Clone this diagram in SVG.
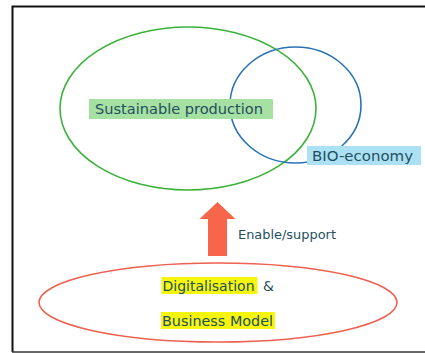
<svg xmlns="http://www.w3.org/2000/svg" width="425" height="353" viewBox="0 0 425 353">
<style>
text{font-family:"DejaVu Sans",Verdana,sans-serif;fill:#1f4f5e}
.big{font-size:14.5px}
.mid{font-size:14px}
.sm{font-size:12.5px}
</style>
<rect width="425" height="353" fill="#fff"/>
<path d="M12.5 352 V6.5 H430" fill="none" stroke="#111" stroke-width="2"/>
<path d="M12 352 H430" stroke="#333" stroke-width="1.5"/>
<g id="sustainable">
<ellipse cx="188" cy="108.5" rx="128" ry="81.5" fill="none" stroke="#3cb23c" stroke-width="1.6"/>
</g>
<g id="bio">
<ellipse cx="295.5" cy="105" rx="65.5" ry="58" fill="none" stroke="#2a72b8" stroke-width="1.6"/>
</g>
<g id="sustainable-label">
<rect x="89" y="99" width="184" height="20" fill="#a6e0a2"/>
<text class="big" x="95" y="113.5" textLength="168" lengthAdjust="spacingAndGlyphs">Sustainable production</text>
</g>
<g id="bio-label">
<rect x="307" y="146" width="114" height="19" fill="#ace1f3"/>
<text class="mid" x="312" y="160.5" textLength="101" lengthAdjust="spacingAndGlyphs">BIO-economy</text>
</g>
<g id="connectors">
<polygon points="208,256 227,256 227,219 235.5,219 217.5,202 199.5,219 208,219" fill="#f7654b"/>
<text class="sm" x="238" y="239" textLength="98" lengthAdjust="spacingAndGlyphs">Enable/support</text>
</g>
<g id="digital">
<ellipse cx="218" cy="302.5" rx="179" ry="39.5" fill="none" stroke="#ee6150" stroke-width="1.6"/>
<rect x="161.5" y="277" width="96" height="17" fill="#f6f60c"/>
<rect x="161" y="312" width="114" height="17" fill="#f6f60c"/>
<text class="mid" x="162.5" y="291" textLength="92" lengthAdjust="spacingAndGlyphs">Digitalisation</text>
<text class="mid" x="263" y="291">&amp;</text>
<text class="mid" x="162" y="326" textLength="111" lengthAdjust="spacingAndGlyphs">Business Model</text>
</g>
</svg>
